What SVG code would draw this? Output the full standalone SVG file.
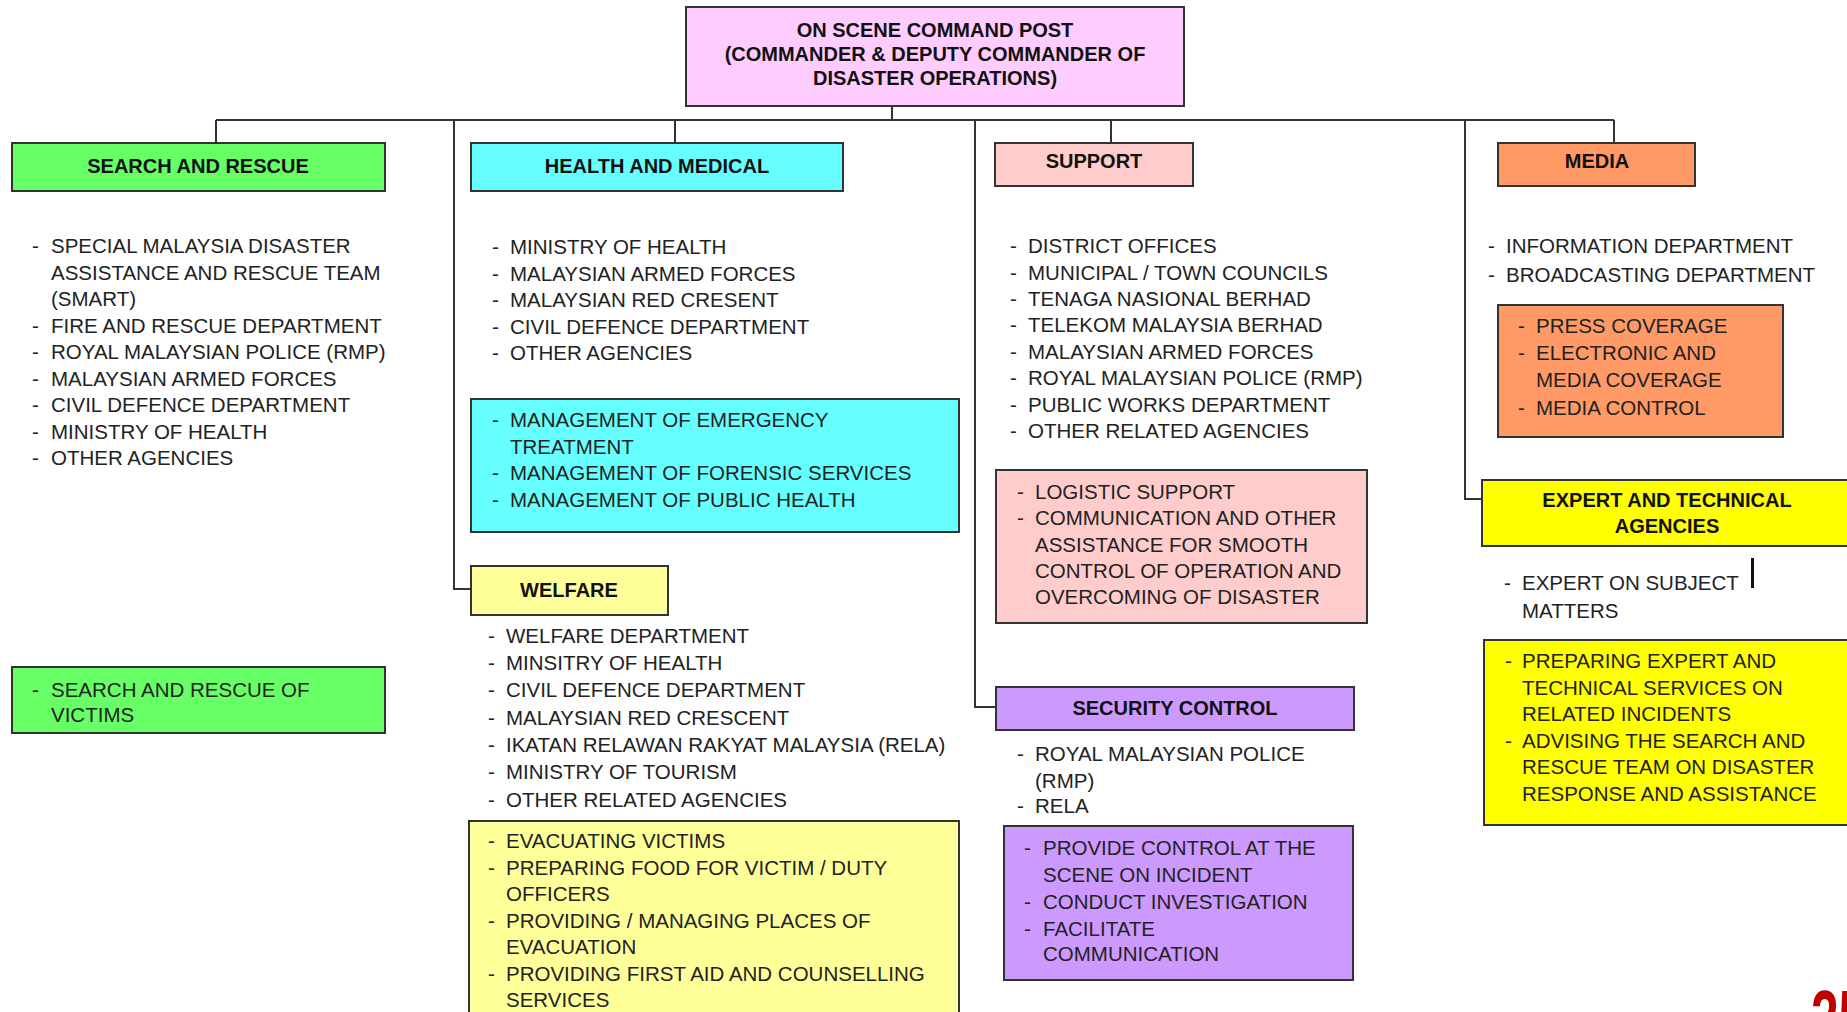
<svg xmlns="http://www.w3.org/2000/svg" width="1847" height="1012" viewBox="0 0 1847 1012">
<style>
.bx{stroke:#333;stroke-width:2}
.h{font-family:"Liberation Sans",Arial,sans-serif;font-weight:bold;font-size:20px;fill:#111;text-anchor:middle}
.t{font-family:"Liberation Sans",Arial,sans-serif;font-size:20.5px;fill:#222}
.c{fill:none;stroke:#333;stroke-width:2}
.pg{font-family:"Liberation Sans",Arial,sans-serif;font-weight:bold;font-size:80px;fill:#C00000}
</style>
<rect width="1847" height="1012" fill="#fff"/>
<g id="connectors">
<path class="c" d="M892 106V120M216 120H1614M216 120V143M454 120V589H471M675 120V143M975 120V707H996M1111 120V143M1465 120V499H1482M1614 120V143"/>
</g>
<g id="command">
<rect class="bx" x="686" y="7" width="498" height="99" fill="#FFCCFF"/>
<text class="h"><tspan x="935" y="37">ON SCENE COMMAND POST</tspan><tspan x="935" y="61">(COMMANDER &amp; DEPUTY COMMANDER OF</tspan><tspan x="935" y="85">DISASTER OPERATIONS)</tspan></text>
</g>
<g id="sar">
<rect class="bx" x="12" y="143" width="373" height="48" fill="#66FF66"/>
<text class="h" x="198" y="173">SEARCH AND RESCUE</text>
<text class="t"><tspan x="32" y="253">-</tspan><tspan x="51" y="253">SPECIAL MALAYSIA DISASTER</tspan><tspan x="51" y="279.5">ASSISTANCE AND RESCUE TEAM</tspan><tspan x="51" y="306">(SMART)</tspan><tspan x="32" y="332.5">-</tspan><tspan x="51" y="332.5">FIRE AND RESCUE DEPARTMENT</tspan><tspan x="32" y="359">-</tspan><tspan x="51" y="359">ROYAL MALAYSIAN POLICE (RMP)</tspan><tspan x="32" y="385.5">-</tspan><tspan x="51" y="385.5">MALAYSIAN ARMED FORCES</tspan><tspan x="32" y="412">-</tspan><tspan x="51" y="412">CIVIL DEFENCE DEPARTMENT</tspan><tspan x="32" y="438.5">-</tspan><tspan x="51" y="438.5">MINISTRY  OF HEALTH</tspan><tspan x="32" y="465">-</tspan><tspan x="51" y="465">OTHER AGENCIES</tspan></text>
</g>
<g id="sar-tasks">
<rect class="bx" x="12" y="667" width="373" height="66" fill="#66FF66"/>
<text class="t"><tspan x="32" y="697">-</tspan><tspan x="51" y="697">SEARCH AND RESCUE OF</tspan><tspan x="51" y="722">VICTIMS</tspan></text>
</g>
<g id="health">
<rect class="bx" x="471" y="143" width="372" height="48" fill="#66FFFF"/>
<text class="h" x="657" y="173">HEALTH AND MEDICAL</text>
<text class="t"><tspan x="492" y="254">-</tspan><tspan x="510" y="254">MINISTRY  OF HEALTH</tspan><tspan x="492" y="280.5">-</tspan><tspan x="510" y="280.5">MALAYSIAN ARMED FORCES</tspan><tspan x="492" y="307">-</tspan><tspan x="510" y="307">MALAYSIAN RED CRESENT</tspan><tspan x="492" y="333.5">-</tspan><tspan x="510" y="333.5">CIVIL DEFENCE DEPARTMENT</tspan><tspan x="492" y="360">-</tspan><tspan x="510" y="360">OTHER AGENCIES</tspan></text>
</g>
<g id="health-tasks">
<rect class="bx" x="471" y="399" width="488" height="133" fill="#66FFFF"/>
<text class="t"><tspan x="492" y="427">-</tspan><tspan x="510" y="427">MANAGEMENT OF EMERGENCY</tspan><tspan x="510" y="453.5">TREATMENT</tspan><tspan x="492" y="480">-</tspan><tspan x="510" y="480">MANAGEMENT OF FORENSIC SERVICES</tspan><tspan x="492" y="506.5">-</tspan><tspan x="510" y="506.5">MANAGEMENT OF PUBLIC HEALTH</tspan></text>
</g>
<g id="welfare">
<rect class="bx" x="471" y="566" width="197" height="49" fill="#FFFF99"/>
<text class="h" x="569" y="597">WELFARE</text>
<text class="t"><tspan x="488" y="643">-</tspan><tspan x="506" y="643">WELFARE DEPARTMENT</tspan><tspan x="488" y="670">-</tspan><tspan x="506" y="670">MINSITRY  OF HEALTH</tspan><tspan x="488" y="697">-</tspan><tspan x="506" y="697">CIVIL DEFENCE DEPARTMENT</tspan><tspan x="488" y="724.5">-</tspan><tspan x="506" y="724.5">MALAYSIAN RED CRESCENT</tspan><tspan x="488" y="752">-</tspan><tspan x="506" y="752">IKATAN RELAWAN RAKYAT MALAYSIA (RELA)</tspan><tspan x="488" y="779">-</tspan><tspan x="506" y="779">MINISTRY  OF TOURISM</tspan><tspan x="488" y="807">-</tspan><tspan x="506" y="807">OTHER RELATED AGENCIES</tspan></text>
</g>
<g id="welfare-tasks">
<rect class="bx" x="469" y="821" width="490" height="220" fill="#FFFF99"/>
<text class="t"><tspan x="488" y="848">-</tspan><tspan x="506" y="848">EVACUATING VICTIMS</tspan><tspan x="488" y="875">-</tspan><tspan x="506" y="875">PREPARING FOOD FOR VICTIM / DUTY</tspan><tspan x="506" y="901">OFFICERS</tspan><tspan x="488" y="928">-</tspan><tspan x="506" y="928">PROVIDING / MANAGING PLACES OF</tspan><tspan x="506" y="954">EVACUATION</tspan><tspan x="488" y="981">-</tspan><tspan x="506" y="981">PROVIDING FIRST AID AND COUNSELLING</tspan><tspan x="506" y="1007">SERVICES</tspan></text>
</g>
<g id="support">
<rect class="bx" x="995" y="143" width="198" height="43" fill="#FFCCCC"/>
<text class="h" x="1094" y="168">SUPPORT</text>
<text class="t"><tspan x="1010" y="253">-</tspan><tspan x="1028" y="253">DISTRICT OFFICES</tspan><tspan x="1010" y="280">-</tspan><tspan x="1028" y="280">MUNICIPAL / TOWN  COUNCILS</tspan><tspan x="1010" y="306">-</tspan><tspan x="1028" y="306">TENAGA NASIONAL BERHAD</tspan><tspan x="1010" y="332">-</tspan><tspan x="1028" y="332">TELEKOM MALAYSIA BERHAD</tspan><tspan x="1010" y="359">-</tspan><tspan x="1028" y="359">MALAYSIAN ARMED FORCES</tspan><tspan x="1010" y="385">-</tspan><tspan x="1028" y="385">ROYAL MALAYSIAN POLICE (RMP)</tspan><tspan x="1010" y="412">-</tspan><tspan x="1028" y="412">PUBLIC WORKS DEPARTMENT</tspan><tspan x="1010" y="438">-</tspan><tspan x="1028" y="438">OTHER RELATED AGENCIES</tspan></text>
</g>
<g id="support-tasks">
<rect class="bx" x="996" y="470" width="371" height="153" fill="#FFCCCC"/>
<text class="t"><tspan x="1017" y="499">-</tspan><tspan x="1035" y="499">LOGISTIC SUPPORT</tspan><tspan x="1017" y="525">-</tspan><tspan x="1035" y="525">COMMUNICATION  AND OTHER</tspan><tspan x="1035" y="552">ASSISTANCE FOR SMOOTH</tspan><tspan x="1035" y="578">CONTROL OF OPERATION AND</tspan><tspan x="1035" y="604">OVERCOMING OF DISASTER</tspan></text>
</g>
<g id="security">
<rect class="bx" x="996" y="687" width="358" height="43" fill="#CC99FF"/>
<text class="h" x="1175" y="715">SECURITY CONTROL</text>
<text class="t"><tspan x="1017" y="761">-</tspan><tspan x="1035" y="761">ROYAL MALAYSIAN POLICE</tspan><tspan x="1035" y="788">(RMP)</tspan><tspan x="1017" y="813">-</tspan><tspan x="1035" y="813">RELA</tspan></text>
</g>
<g id="security-tasks">
<rect class="bx" x="1004" y="826" width="349" height="154" fill="#CC99FF"/>
<text class="t"><tspan x="1024" y="855">-</tspan><tspan x="1043" y="855">PROVIDE CONTROL AT THE</tspan><tspan x="1043" y="882">SCENE ON INCIDENT</tspan><tspan x="1024" y="909">-</tspan><tspan x="1043" y="909">CONDUCT INVESTIGATION</tspan><tspan x="1024" y="936">-</tspan><tspan x="1043" y="936">FACILITATE</tspan><tspan x="1043" y="961">COMMUNICATION</tspan></text>
</g>
<g id="media">
<rect class="bx" x="1498" y="143" width="197" height="43" fill="#FF9966"/>
<text class="h" x="1597" y="168">MEDIA</text>
<text class="t"><tspan x="1488" y="253">-</tspan><tspan x="1506" y="253">INFORMATION  DEPARTMENT</tspan><tspan x="1488" y="282">-</tspan><tspan x="1506" y="282">BROADCASTING DEPARTMENT</tspan></text>
</g>
<g id="media-tasks">
<rect class="bx" x="1498" y="305" width="285" height="132" fill="#FF9966"/>
<text class="t"><tspan x="1518" y="333">-</tspan><tspan x="1536" y="333">PRESS COVERAGE</tspan><tspan x="1518" y="360">-</tspan><tspan x="1536" y="360">ELECTRONIC  AND</tspan><tspan x="1536" y="387">MEDIA COVERAGE</tspan><tspan x="1518" y="415">-</tspan><tspan x="1536" y="415">MEDIA CONTROL</tspan></text>
</g>
<g id="expert">
<rect class="bx" x="1482" y="480" width="380" height="66" fill="#FFFF00"/>
<text class="h"><tspan x="1667" y="507">EXPERT AND TECHNICAL</tspan><tspan x="1667" y="533">AGENCIES</tspan></text>
<text class="t"><tspan x="1504" y="590">-</tspan><tspan x="1522" y="590">EXPERT ON SUBJECT</tspan><tspan x="1522" y="618">MATTERS</tspan></text>
<rect x="1751" y="558" width="3" height="30" fill="#111"/>
</g>
<g id="expert-tasks">
<rect class="bx" x="1484" y="640" width="380" height="185" fill="#FFFF00"/>
<text class="t"><tspan x="1505" y="668">-</tspan><tspan x="1522" y="668">PREPARING EXPERT AND</tspan><tspan x="1522" y="695">TECHNICAL  SERVICES ON</tspan><tspan x="1522" y="721">RELATED INCIDENTS</tspan><tspan x="1505" y="747.5">-</tspan><tspan x="1522" y="747.5">ADVISING THE SEARCH AND</tspan><tspan x="1522" y="774">RESCUE TEAM ON DISASTER</tspan><tspan x="1522" y="801">RESPONSE AND ASSISTANCE</tspan></text>
</g>
<text class="pg" transform="translate(1811 1046) scale(0.62 1)">25</text>
</svg>
